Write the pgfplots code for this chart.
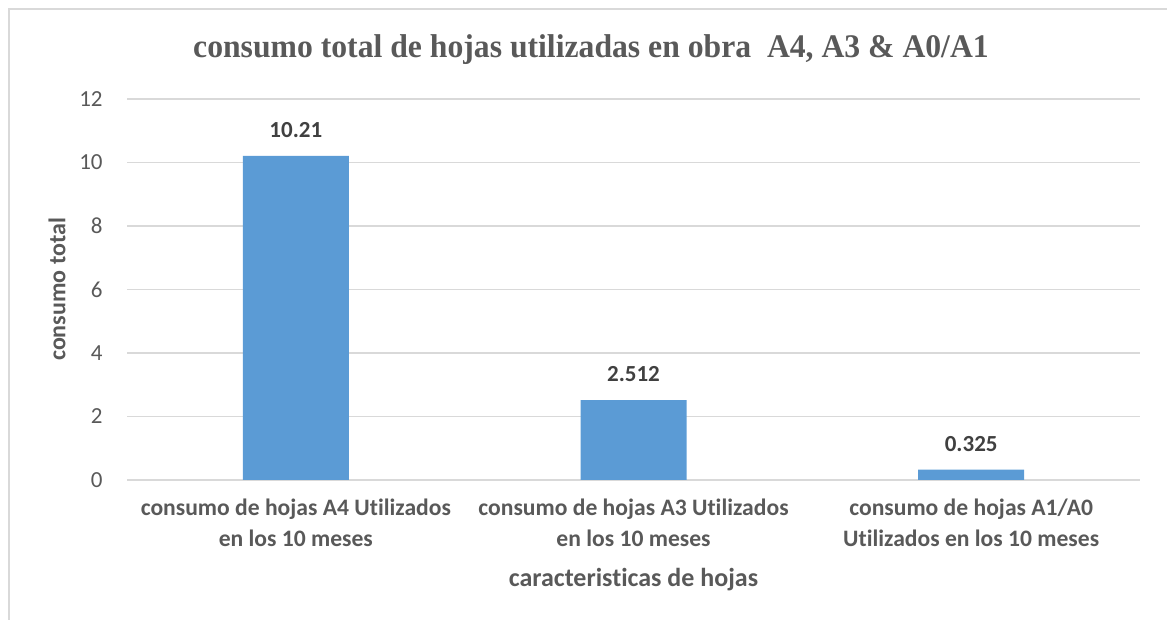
\documentclass[border=0pt]{standalone}
\usepackage{pgfplots}
\pgfplotsset{compat=1.18}
\usepackage{fontspec}
\setmainfont{Carlito}[Ligatures=NoCommon]
\newfontfamily\titlefont{Liberation Serif}
\definecolor{barblue}{HTML}{5B9BD5}
\definecolor{txtgray}{HTML}{595959}
\definecolor{lblgray}{HTML}{404040}
\definecolor{gridgray}{HTML}{D9D9D9}

\begin{document}
\begin{tikzpicture}
% picture area (1px = 0.5pt)
\path[use as bounding box] (0pt,0pt) rectangle (583.5pt,310pt);
\draw[gridgray, line width=1pt] (4.25pt,0pt) -- (4.25pt,305.5pt) -- (583.5pt,305.5pt);
\node[txtgray, xscale=0.96, font=\titlefont\bfseries\fontsize{16.5}{19}\selectfont] at (295.5pt,285pt)
  {consumo total de hojas utilizadas en obra\ \ A4, A3 \& A0/A1};

\begin{axis}[
    at={(63.5pt,70pt)}, anchor=south west,
    scale only axis, width=506.5pt, height=190.5pt,
    xmin=-0.5, xmax=2.5, ymin=0, ymax=12,
    ytick={0,2,...,12},
    xtick={0,1,2},
    xticklabels={{consumo de hojas A4 Utilizados\\en los 10 meses},
                 {consumo de hojas A3 Utilizados\\en los 10 meses},
                 {consumo de hojas A1/A0\\Utilizados en los 10 meses}},
    axis line style={draw=none},
    ymajorgrids, grid style={gridgray, line width=0.75pt},
    major tick length=0pt,
    /pgf/number format/assume math mode=true,
    yticklabel style={font=\fontsize{11.5}{13}\selectfont, text=txtgray, anchor=east, inner sep=0pt, xshift=-12pt},
    xticklabel style={font=\bfseries\fontsize{11.8}{15.5}\selectfont, text=txtgray, align=center, anchor=north, inner sep=0pt, yshift=-9.5pt},
    xlabel={caracteristicas de hojas},
    ylabel={consumo total},
    every axis x label/.style={at={(axis description cs:0.5,0)}, anchor=center, yshift=-50pt, font=\bfseries\fontsize{13}{15}\selectfont, text=txtgray},
    every axis y label/.style={at={(axis description cs:0,0.5)}, anchor=center, rotate=90, yshift=35pt, font=\bfseries\fontsize{12}{14}\selectfont, text=txtgray},
    clip=false,
]
\addplot[ybar, bar width=53pt, fill=barblue, draw=none,
    nodes near coords,
    every node near coord/.append style={font=\bfseries\fontsize{11.5}{13}\selectfont, text=lblgray, anchor=south, inner sep=0pt, yshift=9pt},
    point meta=explicit symbolic]
  coordinates {(0,10.21) [10.21] (1,2.512) [2.512] (2,0.325) [0.325]};
\end{axis}
\end{tikzpicture}
\end{document}
